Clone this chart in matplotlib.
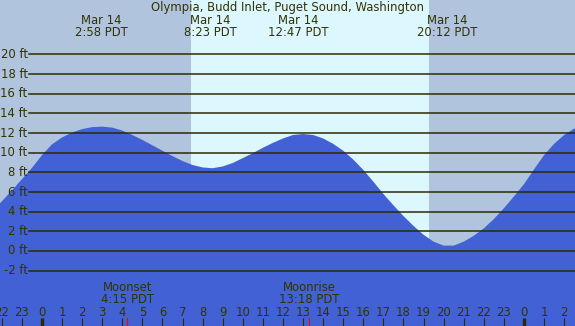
import numpy as np
import matplotlib
matplotlib.use('Agg')
import matplotlib.pyplot as plt

# ============================================
# DATOS
# ============================================
titulo = 'Olympia, Budd Inlet, Puget Sound, Washington'

# altura de marea (ft) leída cada media hora (0 = medianoche del 14 de marzo)
horas = [h / 2 for h in range(-6, 55)]
marea = [3.0, 4.0, 5.05, 6.15, 7.3, 8.45, 9.75, 10.85, 11.55, 12.05,
         12.4, 12.6, 12.65, 12.55, 12.25, 11.8, 11.3, 10.75, 10.2, 9.65,
         9.15, 8.75, 8.5, 8.42, 8.6, 8.95, 9.45, 9.95, 10.5, 11.0,
         11.45, 11.8, 11.9, 11.8, 11.45, 10.9, 10.2, 9.3, 8.25, 7.05,
         5.8, 4.65, 3.55, 2.55, 1.65, 0.95, 0.55, 0.55, 0.95, 1.55,
         2.3, 3.25, 4.35, 5.55, 6.8, 8.3, 9.75, 10.9, 11.8, 12.45, 12.85]

# extremos (hora decimal, etiqueta)
extremos_h = [2.967, 8.383, 12.783, 20.2]
extremos_txt = ['2:58 PDT', '8:23 PDT', '12:47 PDT', '20:12 PDT']
fecha = 'Mar 14'

# sol
amanecer = 7.42
atardecer = 19.27

# luna
luna_h = [4.25, 13.30]
luna_txt = [('Moonset', '4:15 PDT'), ('Moonrise', '13:18 PDT')]

niveles = [-2, 0, 2, 4, 6, 8, 10, 12, 14, 16, 18, 20]
horas_ticks = list(range(-2, 27))

# ============================================
# ESTILO
# ============================================
c_noche = '#b0c4de'
c_dia = '#ddf7ff'
c_agua = '#4161d5'
c_linea = '#2b2b00'
c_texto = '#333300'
fs = 8.4

x0, x1 = -2.09, 26.54
px_ft = 9.83


def ypx(p):
    # convertir pixel vertical a pies
    return (251 - p) / px_ft


fig = plt.figure(figsize=(5.75, 3.26), dpi=100)
ax = fig.add_axes([0, 0, 1, 1])
ax.set_xlim(x0, x1)
ax.set_ylim(ypx(326), ypx(0))
ax.axis('off')

# fondo noche / día
ax.axvspan(x0, amanecer, color=c_noche, lw=0)
ax.axvspan(amanecer, atardecer, color=c_dia, lw=0)
ax.axvspan(atardecer, x1, color=c_noche, lw=0)

# marea
ax.fill_between(horas, marea, ypx(330), color=c_agua, lw=0, zorder=2)

# líneas de nivel
for nv in niveles:
    ax.plot([-0.65, x1], [nv, nv], color=c_linea, lw=1.1, zorder=3)
    ax.text(-0.72, nv, f'{nv} ft', ha='right', va='center',
            fontsize=fs, color=c_texto, zorder=4)

# título y extremos
ax.text((287 - 42) / 20.08, ypx(8), titulo, ha='center', va='center',
        fontsize=fs, color=c_texto)
for h, t in zip(extremos_h, extremos_txt):
    ax.text(h, ypx(20), fecha, ha='center', va='center', fontsize=fs, color=c_texto)
    ax.text(h, ypx(32), t, ha='center', va='center', fontsize=fs, color=c_texto)

# luna
for h, (a, b) in zip(luna_h, luna_txt):
    ax.text(h, ypx(287.5), a, ha='center', va='center', fontsize=fs, color=c_texto, zorder=4)
    ax.text(h, ypx(299.5), b, ha='center', va='center', fontsize=fs, color=c_texto, zorder=4)
    ax.plot([h, h], [ypx(318), ypx(327)], color='red', lw=0.8, zorder=4)

# ticks de horas
for h in horas_ticks:
    grueso = (h % 24 == 0)
    ax.plot([h, h], [ypx(318), ypx(327)], color=c_linea,
            lw=2.4 if grueso else 0.8, solid_capstyle='butt', zorder=4)
    ax.text(h, ypx(312), str(h % 24), ha='center', va='center',
            fontsize=fs, color=c_texto, zorder=4)

fig.savefig('out.png', dpi=100)
plt.close(fig)
